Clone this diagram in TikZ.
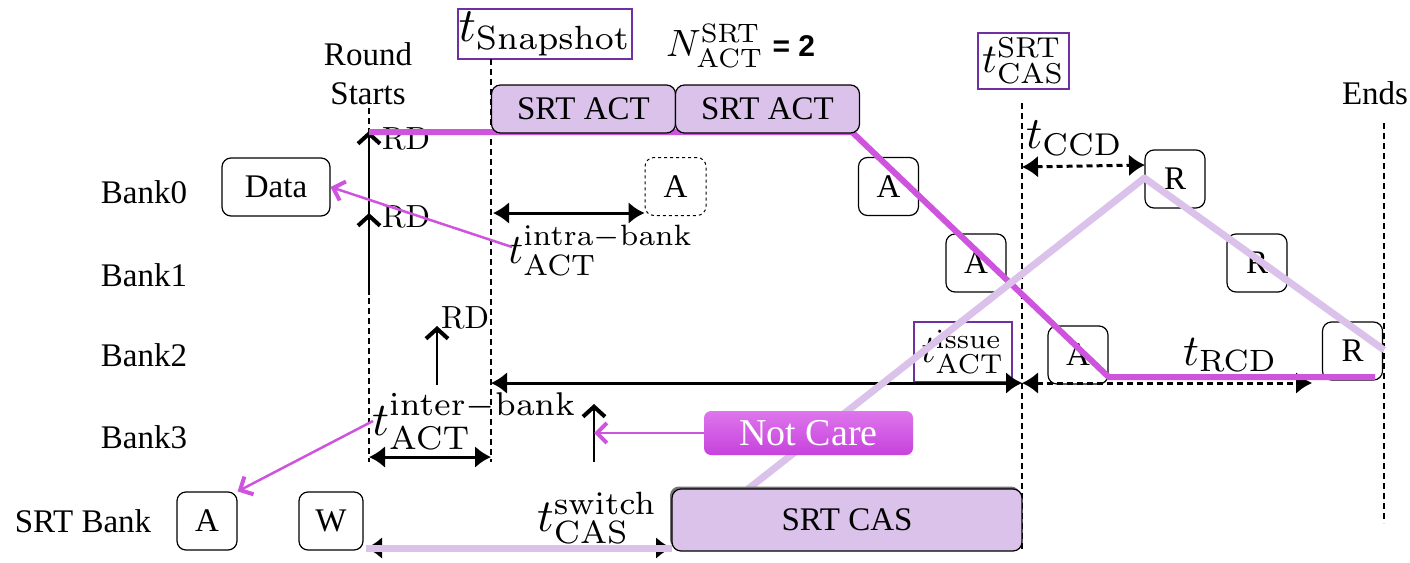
\documentclass[tikz,border=0pt]{standalone}
\usepackage[no-math]{fontspec}
\usepackage{graphicx}
\setmainfont{Liberation Serif}
\newfontfamily\sansbf{Liberation Sans}
\usetikzlibrary{arrows.meta,shadows}

\definecolor{mag}{RGB}{206,84,222}
\definecolor{lav}{RGB}{219,194,234}
\definecolor{tpur}{RGB}{112,48,160}
\definecolor{ncTop}{RGB}{222,118,236}
\definecolor{ncBot}{RGB}{198,66,220}

\newcommand\txt{\fontsize{33}{39}\selectfont}
% math set at 10pt and enlarged, so scripts keep their optical sizes
\newcommand\bigmath[2]{\scalebox{#1}{$#2$}}

\begin{document}
\begin{tikzpicture}[x=1pt,y=-1pt,
  lbl/.style={font=\txt, inner sep=0pt},
  mlbl/.style={inner sep=0pt, anchor=west},
  box/.style={draw, line width=1.2pt, rounded corners=9pt, minimum width=60pt,
    minimum height=58pt, inner sep=0pt, font=\txt},
  srtbox/.style={box, fill=lav, minimum width=184pt, minimum height=48pt},
  tbox/.style={draw=tpur, line width=2pt, inner sep=0pt},
  marker/.style={line width=2pt, dash pattern=on 6pt off 4pt},
  span/.style={line width=3pt,
    {Latex[length=16pt,width=22pt]}-{Latex[length=16pt,width=22pt]}},
  dspan/.style={span, dash pattern=on 6pt off 4pt},
  rd/.style={line width=2.5pt, -{Straight Barb[length=10pt,width=22pt,line width=4pt]}},
  hint/.style={draw=mag, line width=2.5pt,
    -{Straight Barb[length=10pt,width=20pt,line width=4pt]}},
  trace/.style={draw=mag, line width=6pt, line join=round},
  srttrace/.style={draw=lav, line width=7pt, line join=round},
]
\useasboundingbox (0,0) rectangle (1410,562);

% ---- row and event labels
\node[lbl] (bank0) at (144,192) {Bank0};
\node[lbl] (bank1) at (144,275) {Bank1};
\node[lbl] (bank2) at (144,355) {Bank2};
\node[lbl] (bank3) at (144,437) {Bank3};
\node[lbl] (srtbank) at (83,521) {SRT Bank};
\node[lbl, align=center] (round) at (368,74) {Round\\Starts};
\node[lbl] (ends) at (1375,93) {Ends};

% ---- timing label boxes
\node[tbox, minimum width=174pt, minimum height=50pt] (snap) at (545,34)
  {\bigmath{4.8}{t_{\mathrm{Snapshot}}}};
\node[tbox, minimum width=91pt, minimum height=56pt] (cassrt) at (1023.5,61)
  {\bigmath{4.1}{t^{\mathrm{SRT}}_{\mathrm{CAS}}}};
\node[mlbl] (nact) at (666,46)
  {\bigmath{3.8}{N^{\mathrm{SRT}}_{\mathrm{ACT}}}\hspace{9pt}{\sansbf\bfseries\fontsize{30}{30}\selectfont = 2}};

% ---- vertical time markers
\coordinate (m1t) at (369,108);  \coordinate (m1b) at (369,462);
\coordinate (m2t) at (491,59);   \coordinate (m2b) at (491,462);
\coordinate (m3t) at (1022,103); \coordinate (m3b) at (1022,551);
\coordinate (m4t) at (1384,123); \coordinate (m4b) at (1384,523);
\draw[marker] (m1t) -- (m1b);
\draw[marker] (m2t) -- (m2b);
\draw[marker] (m3t) -- (m3b);
\draw[marker] (m4t) -- (m4b);

% ---- command boxes
\node[box, minimum width=108pt] (data) at (276,187) {Data};
\node[box, dashed, line width=1pt, minimum width=61pt] (ad) at (675.5,186.5) {A};
\node[box] (a0) at (888.5,186.5) {A};
\node[box] (a1) at (976,263) {A};
\node[box] (a2) at (1078,355) {A};
\node[box] (r0) at (1175,179) {R};
\node[box] (r1) at (1257,263) {R};
\node[box] (r2) at (1352.5,351) {R};
\node[box] (sa) at (207,521) {A};
\node[box, minimum width=64pt] (sw) at (331,521) {W};
\node[tbox, minimum width=98pt, minimum height=60pt] (issue) at (963,352)
  {\bigmath{3.9}{t^{\mathrm{issue}}_{\mathrm{ACT}}}};

% ---- read commands
\coordinate (rd0) at (369,131);  \coordinate (rd1) at (369,213);
\coordinate (rd1b) at (369,295);
\coordinate (rd2) at (437,326);  \coordinate (rd2b) at (437,385);
\coordinate (nc0) at (594,404);  \coordinate (nc0b) at (594,462);
\draw[rd] (rd1) -- (rd0);
\draw[rd] (rd1b) -- (rd1);
\draw[rd] (rd2b) -- (rd2);
\draw[rd] (nc0b) -- (nc0);
\node[inner sep=0pt] (rdl0) at (406,139) {\bigmath{3.2}{\mathrm{RD}}};
\node[inner sep=0pt] (rdl1) at (406,217) {\bigmath{3.2}{\mathrm{RD}}};
\node[inner sep=0pt] (rdl2) at (465,318) {\bigmath{3.2}{\mathrm{RD}}};

% ---- timing spans
\coordinate (intraL) at (493,213);
\draw[span] (intraL) -- (intraL -| ad.west);
\coordinate (interL) at (369,457); \coordinate (interR) at (491,457);
\draw[span] (interL) -- (interR);
\coordinate (longL) at (491,383); \coordinate (longR) at (1022,383);
\coordinate (rcdR) at (1312,383);
\draw[span] (longL) -- (longR);
\draw[dspan] (longR) -- (rcdR);
\coordinate (ccdL) at (1022,167); \coordinate (ccdR) at (1145,165);
\draw[dspan] (ccdL) -- (ccdR);
\coordinate (swL) at (366,548); \coordinate (swR) at (672,548);
\draw[span] (swL) -- (swR);

\node[mlbl] (tintra) at (508,250)
  {\bigmath{4.2}{t^{\mathrm{intra{-}bank}}_{\mathrm{ACT}}}};
\node[mlbl] (tinter) at (372,421)
  {\bigmath{4.7}{t^{\mathrm{inter{-}bank}}_{\mathrm{ACT}}}};
\node[mlbl] (tswitch) at (537,518)
  {\bigmath{4.6}{t^{\mathrm{switch}}_{\mathrm{CAS}}}};
\node[mlbl] (tccd) at (1026,138) {\bigmath{4.5}{t_{\mathrm{CCD}}}};
\node[mlbl] (trcd) at (1183,355) {\bigmath{4.4}{t_{\mathrm{RCD}}}};

% ---- command traces
\draw[srttrace] (swL) -- (swR);
\draw[trace] (369,132) -- (852,132) -- (a2.south east |- 0,377) -- (1375,377);
\draw[srttrace] (748,489) -- (r0.west |- 0,178) -- (m4t |- 0,350);

% ---- SRT command blocks
\node[srtbox] (act1) at (583.5,109) {SRT ACT};
\node[srtbox] (act2) at (767.5,109) {SRT ACT};
\node[box, fill=lav, minimum width=350pt, minimum height=62pt,
  drop shadow={shadow xshift=-2pt, shadow yshift=2.5pt, fill=black!55, opacity=1}]
  (cas) at (847,520) {SRT CAS};
\node[rounded corners=7pt, top color=ncTop, bottom color=ncBot, text=white,
  minimum width=209pt, minimum height=44pt, inner sep=0pt,
  font=\fontsize{38}{42}\selectfont] (nc) at (808.5,433) {Not Care};

% ---- callouts
\coordinate (intraP) at (512,247);
\coordinate (interP) at (373,421);
\draw[hint] (intraP) -- (data.east);
\draw[hint] (interP) -- (sa.north east);
\draw[hint] (nc.west) -- (nc0 |- nc.west);
\end{tikzpicture}
\end{document}
